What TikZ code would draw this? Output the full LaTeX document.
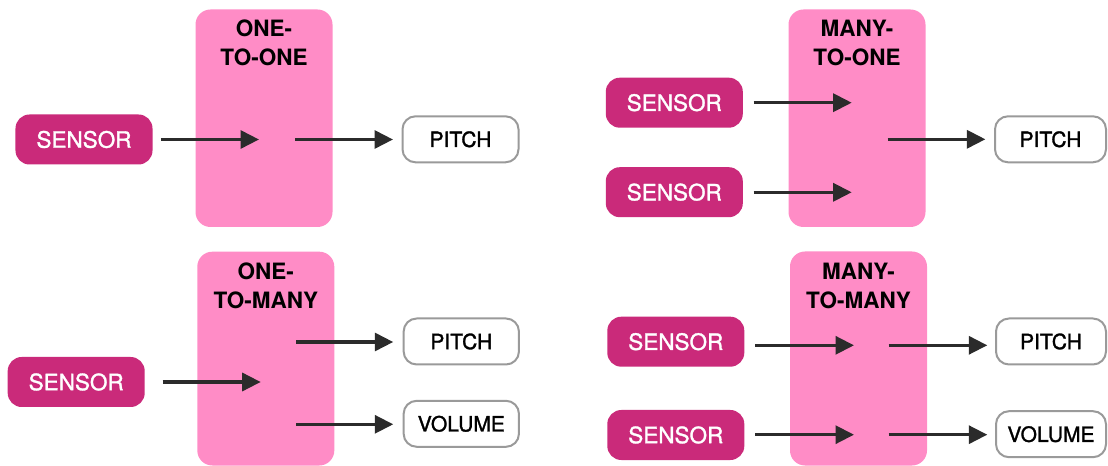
\documentclass[tikz,border=0pt]{standalone}
\usepackage{fontspec}
\setmainfont{TeX Gyre Heros}
\newfontfamily\medfont[FakeBold=1.4]{TeX Gyre Heros}
\usetikzlibrary{arrows.meta}
\definecolor{pinkbg}{HTML}{FF8CC6}
\definecolor{sensorc}{HTML}{CA2A7A}
\definecolor{arrowc}{HTML}{2B2B2B}
\definecolor{outlinec}{HTML}{9A9A9A}
\tikzset{
  mapbox/.style={fill=pinkbg, draw=none, rounded corners=15bp, inner sep=0pt, minimum width=137bp},
  headtext/.style={anchor=base, inner sep=0pt, font=\fontsize{22.5bp}{26bp}\selectfont\bfseries},
  sensorbox/.style={fill=sensorc, draw=none, text=white, rounded corners=14bp, inner sep=0pt,
    minimum width=137bp, minimum height=50bp, font=\fontsize{22.5bp}{26bp}\selectfont\medfont},
  outbox/.style={fill=white, draw=outlinec, line width=2bp, rounded corners=13bp, inner sep=0pt,
    minimum width=116bp, minimum height=46bp, font=\fontsize{21bp}{24bp}\selectfont\medfont},
  arr/.style={draw=arrowc, line width=3.2bp, -{Triangle[length=18.5bp,width=18bp]}}
}
\begin{document}
\begin{tikzpicture}[x=1bp,y=-1bp]
\useasboundingbox (0,0) rectangle (1108,466);

% ---------- panel 1: one-to-one ----------
\node[mapbox, minimum height=217.5bp] (m1) at (264,118.25) {};
\node[headtext] (h1a) at (264,37) {ONE-};
\node[headtext] (h1b) at (264,65.5) {TO-ONE};
\node[sensorbox] (s1) at (84,139.5) {SENSOR};
\coordinate (i1) at (259,139.5);
\coordinate (q1) at (295,139.5);
\node[outbox] (o1) at (460.5,139.3) {PITCH};
\draw[arr, shorten <=8.2bp] (s1.east |- i1) -- (i1);
\draw[arr, shorten >=8.5bp] (q1) -- (q1 -| o1.west);

% ---------- panel 2: many-to-one ----------
\node[mapbox, minimum height=217.5bp] (m2) at (857,118.25) {};
\node[headtext] (h2a) at (857,37) {MANY-};
\node[headtext] (h2b) at (857,65.5) {TO-ONE};
\node[sensorbox] (s2a) at (674.3,102.7) {SENSOR};
\node[sensorbox] (s2b) at (674.3,192.2) {SENSOR};
\coordinate (i2a) at (851.7,102.7);
\coordinate (i2b) at (851.7,192.3);
\coordinate (q2) at (887.6,139.3);
\node[outbox, minimum width=111bp] (o2) at (1050.5,139.3) {PITCH};
\draw[arr, shorten <=10.5bp] (s2a.east |- i2a) -- (i2a);
\draw[arr, shorten <=10.5bp] (s2b.east |- i2b) -- (i2b);
\draw[arr, shorten >=8.6bp] (q2) -- (q2 -| o2.west);

% ---------- panel 3: one-to-many ----------
\node[mapbox, minimum height=213.8bp] (m3) at (265.8,358.6) {};
\node[headtext] (h3a) at (265.8,279.5) {ONE-};
\node[headtext] (h3b) at (265.8,309) {TO-MANY};
\node[sensorbox] (s3) at (76.2,382) {SENSOR};
\coordinate (i3) at (260.7,382);
\coordinate (q3a) at (296,342);
\coordinate (q3b) at (296,424.3);
\node[outbox, minimum width=115.3bp] (o3a) at (461.3,341.5) {PITCH};
\node[outbox, minimum width=115.3bp] (o3b) at (461.3,423.8) {VOLUME};
\draw[arr, shorten <=17.6bp] (s3.east |- i3) -- (i3);
\draw[arr, shorten >=9.4bp] (q3a) -- (q3a -| o3a.west);
\draw[arr, shorten >=9.4bp] (q3b) -- (q3b -| o3b.west);

% ---------- panel 4: many-to-many ----------
\node[mapbox, minimum height=214bp] (m4) at (858.5,358.5) {};
\node[headtext] (h4a) at (858.5,279.5) {MANY-};
\node[headtext] (h4b) at (858.5,309) {TO-MANY};
\node[sensorbox] (s4a) at (675.8,341.7) {SENSOR};
\node[sensorbox] (s4b) at (675.8,435) {SENSOR};
\coordinate (i4a) at (854,345.3);
\coordinate (i4b) at (854,434.7);
\coordinate (q4a) at (888.6,345.3);
\coordinate (q4b) at (888.6,434.7);
\node[outbox, minimum width=110bp] (o4a) at (1051,341.5) {PITCH};
\node[outbox, minimum width=110bp] (o4b) at (1051,434.2) {VOLUME};
\draw[arr, shorten <=10.7bp] (s4a.east |- i4a) -- (i4a);
\draw[arr, shorten <=10.7bp] (s4b.east |- i4b) -- (i4b);
\draw[arr, shorten >=7.7bp] (q4a) -- (q4a -| o4a.west);
\draw[arr, shorten >=7.7bp] (q4b) -- (q4b -| o4b.west);
\end{tikzpicture}
\end{document}
